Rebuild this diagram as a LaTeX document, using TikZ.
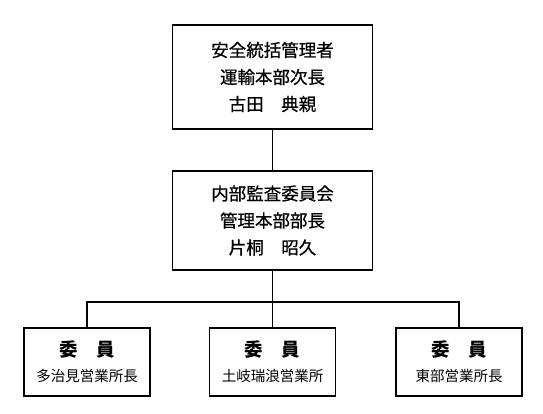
\documentclass[tikz,border=0pt]{standalone}
\usepackage{fontspec}
\setmainfont{Noto Sans CJK JP}
\newfontfamily\headfont{Noto Sans CJK JP}[FakeBold=0.6]
\usepackage{tikz}
\usetikzlibrary{positioning}

\begin{document}
\begin{tikzpicture}[x=1pt, y=-1pt, line width=1.5pt,
  headbox/.style={draw, align=center, minimum width=200pt, inner sep=0pt,
    font=\headfont\fontsize{17.5}{27}\selectfont},
  memberbox/.style={draw, align=center, minimum width=126pt, minimum height=68pt,
    inner sep=0pt, font=\fontsize{18.5}{26}\selectfont}]
  \useasboundingbox (0,0) rectangle (543,414);
  \node[headbox, minimum height=104pt] (safety) at (272.5,77) {安全統括管理者\\運輸本部次長\\古田　典親};
  \node[headbox, minimum height=99pt] (audit) at (272.5,220.5) {内部監査委員会\\管理本部部長\\片桐　昭久};
  \node[memberbox] (tajimi) at (87,362) {\bfseries 委　員\\[-1pt]{\fontsize{14.5}{18}\selectfont 多治見営業所長}};
  \node[memberbox] (toki) at (272.5,362) {\bfseries 委　員\\[-1pt]{\fontsize{14.5}{18}\selectfont 土岐瑞浪営業所}};
  \node[memberbox] (tobu) at (459,362) {\bfseries 委　員\\[-1pt]{\fontsize{14.5}{18}\selectfont 東部営業所長}};
  \coordinate (bus) at (272.5,302);
  \draw (safety) -- (audit);
  \draw (audit) -- (bus) -- (toki);
  \draw (bus) -| (tajimi);
  \draw (bus) -| (tobu);
\end{tikzpicture}
\end{document}
